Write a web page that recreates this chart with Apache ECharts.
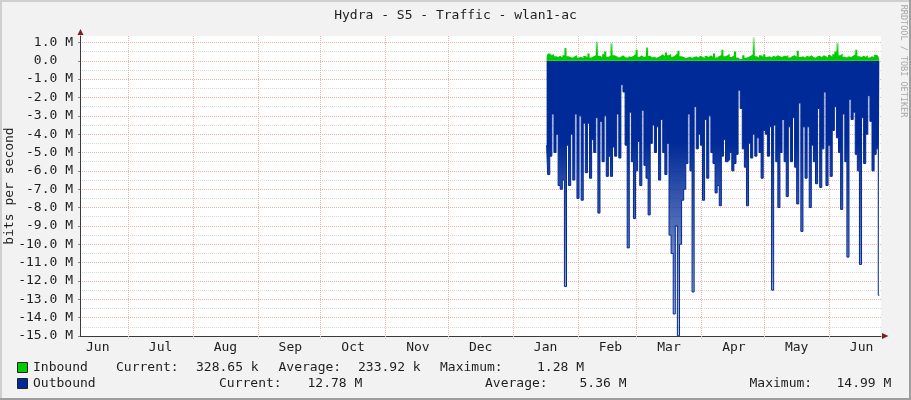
<!DOCTYPE html>
<html><head><meta charset="utf-8">
<script src="https://cdn.jsdelivr.net/npm/echarts@6/dist/echarts.min.js"></script>
<style>html,body{margin:0;padding:0;background:#F2F2F2}#c{width:911px;height:400px}</style>
</head><body><div id="c"></div>
<script>
// ---- data ----
const titleText = 'Hydra - S5 - Traffic - wlan1-ac';
const yAxisName = 'bits per second';
const watermark = 'RRDTOOL / TOBI OETIKER';
const monthNames = ['Jun','Jul','Aug','Sep','Oct','Nov','Dec','Jan','Feb','Mar','Apr','May','Jun'];
// month start, in days relative to 1 Jul
const monthStartDays = [-30,0,31,62,92,123,153,184,215,243,274,304,335];
const axisStartDay = -23.0, axisEndDay = 359.8;
const dataStartDay = 200;   // first sample (mid Jan), one sample per day
const seriesNames = ['Inbound','Outbound'];
const yTickStepM = 1, yMinM = -15, yMaxM = 1.35;
// bits per second, in M
const inboundM = [
 0.22,0.40,0.30,0.38,0.25,0.20,0.28,0.18,0.30,0.69,
 0.25,0.20,0.16,0.24,0.30,0.18,0.22,0.15,0.26,0.20,
 0.40,0.18,0.24,0.30,1.04,0.28,0.20,0.35,0.50,0.22,
 0.28,0.95,0.30,0.24,0.18,0.22,0.30,0.20,0.16,0.25,
 0.20,0.28,0.35,0.60,0.22,0.30,0.20,0.25,0.73,0.28,
 0.18,0.22,0.16,0.20,0.28,0.35,0.25,0.45,0.30,0.38,
 0.22,0.30,0.40,0.55,0.25,0.20,0.15,0.18,0.22,0.16,
 0.20,0.25,0.18,0.28,0.22,0.15,0.26,0.20,0.30,0.22,
 0.40,0.18,0.26,0.32,0.60,0.24,0.30,0.38,0.20,0.30,
 0.50,0.18,0.08,0.10,0.30,0.16,0.22,0.26,0.35,1.28,
 0.24,0.18,0.30,0.22,0.36,0.20,0.25,0.18,0.28,0.22,
 0.30,0.25,0.20,0.28,0.24,0.32,0.18,0.26,0.30,0.22,
 0.55,0.20,0.25,0.18,0.28,0.22,0.30,0.20,0.16,0.24,
 0.28,0.20,0.30,0.25,0.18,0.32,0.22,0.35,0.50,0.95,
 0.30,0.40,0.22,0.18,0.25,0.20,0.28,0.35,0.60,0.25,
 0.20,0.28,0.22,0.30,0.18,0.25,0.20,0.33,0.28,0.33];
const outboundM = [
 4.6,6.2,5.2,2.9,5.0,4.0,6.8,7.0,6.5,12.3,
 4.6,6.8,4.0,6.5,2.9,7.5,3.0,7.6,3.4,6.1,
 3.4,6.4,4.3,5.0,3.1,8.3,3.3,5.5,3.0,6.3,
 5.2,6.3,4.7,5.2,2.9,5.3,1.3,1.7,4.6,10.2,
 2.8,5.5,8.6,6.0,4.4,6.8,2.7,5.7,6.4,8.4,
 4.5,3.5,5.0,3.6,6.5,3.2,5.0,6.2,4.5,9.5,
 10.5,13.8,9.0,14.99,10.0,7.6,7.0,5.6,2.9,6.0,
 12.6,2.5,4.8,4.0,4.6,7.6,3.2,6.4,3.0,5.0,
 5.6,7.2,6.8,7.9,5.2,4.3,5.5,5.4,5.0,6.0,
 5.6,5.1,1.6,2.6,4.8,5.8,7.9,4.5,5.3,4.0,
 5.2,4.2,5.0,6.4,3.8,4.0,5.2,3.6,12.5,3.5,
 5.5,8.0,5.0,3.2,5.5,7.4,3.6,5.5,3.1,5.8,
 7.8,2.3,9.3,3.6,6.4,3.6,8.0,4.6,5.5,6.7,
 2.6,6.9,4.8,1.7,6.8,4.6,6.3,3.8,2.5,4.2,
 5.0,8.1,2.9,5.5,10.7,2.1,3.2,2.8,5.1,6.0,
 11.1,3.1,5.6,4.0,1.9,3.3,6.0,5.1,4.8,12.78];
const statRows = [
 ['Current:','328.65 k','Average:','233.92 k','Maximum:','1.28 M'],
 ['Current:','12.78 M','Average:','5.36 M','Maximum:','14.99 M']];

// ---- styles ----
const FONT = '"DejaVu Sans Mono", monospace';
const TXT = '#1e1e1e';
const MGRID = '#F2B0B0', GRID = '#D8D8D8';
const GREEN = '#00CC00', BLUE = '#002A97';
const labelDays = monthStartDays.map(d => d + 15.5);

const inData = inboundM.map((v, i) => [dataStartDay + i, v * 1e6]);
const outData = outboundM.map((v, i) => [dataStartDay + i, -v * 1e6]);

const chart = echarts.init(document.getElementById('c'), null, {renderer: 'canvas'});

const statX = [[116, 196, 278.5, 358, 440, 537], [219, 307.5, 485, 579.5, 749.5, 836.5]];
const rowY = [368, 384];
const graphics = [
  {type:'rect', shape:{x:0,y:0,width:911,height:2}, style:{fill:'#CFCFCF'}, silent:true},
  {type:'rect', shape:{x:0,y:0,width:2,height:400}, style:{fill:'#CFCFCF'}, silent:true},
  {type:'rect', shape:{x:909,y:0,width:2,height:400}, style:{fill:'#9E9E9E'}, silent:true},
  {type:'rect', shape:{x:0,y:398,width:911,height:2}, style:{fill:'#9E9E9E'}, silent:true},
  {type:'text', x:903.5, y:61, rotation:-Math.PI/2,
   style:{text:watermark, font:'8.5px ' + FONT, fill:'#A8A8A8', align:'center', verticalAlign:'middle'}},
  {type:'polygon', shape:{points:[[77.5,35],[83.5,35],[80.5,29]]}, style:{fill:'#801F1F'}, z:10},
  {type:'polygon', shape:{points:[[882,333],[882,339],[888.5,336]]}, style:{fill:'#801F1F'}, z:10}
];
[GREEN, BLUE].forEach((c, r) => {
  graphics.push({type:'rect', shape:{x:17.5, y:rowY[r]-5.5, width:10, height:10},
    style:{fill:c, stroke:'#222', lineWidth:1}});
  graphics.push({type:'text', x:33, y:rowY[r], style:{text:seriesNames[r], font:'13px ' + FONT, fill:TXT, verticalAlign:'middle'}});
  statRows[r].forEach((t, k) => {
    graphics.push({type:'text', x:statX[r][k], y:rowY[r], style:{text:t, font:'13px ' + FONT, fill:TXT, verticalAlign:'middle'}});
  });
});

chart.setOption({
  animation: false,
  backgroundColor: '#F2F2F2',
  title: {text: titleText, left: 'center', top: 4,
    textStyle: {fontFamily: FONT, fontSize: 13, fontWeight: 'normal', color: TXT}},
  grid: {left: 80, top: 36, width: 801, height: 300, show: true, backgroundColor: '#FFFFFF',
    borderWidth: 0, outerBoundsMode: 'none', containLabel: false},
  xAxis: {
    type: 'value', min: axisStartDay, max: axisEndDay,
    axisLine: {show: true, onZero: false, lineStyle: {color: '#3a3a3a', width: 1}},
    axisTick: {show: true, length: 3, customValues: monthStartDays.filter(d => d > axisStartDay && d < axisEndDay),
      lineStyle: {color: MGRID, type: [1, 1]}},
    splitLine: {show: true, lineStyle: {color: MGRID, width: 1, type: [1, 1]}},
    axisLabel: {customValues: labelDays, margin: 5, fontFamily: FONT, fontSize: 13, color: TXT,
      formatter: v => monthNames[labelDays.indexOf(v)] || ''},
    z: 1
  },
  yAxis: [{
    type: 'value', min: yMinM * 1e6, max: yMaxM * 1e6, interval: yTickStepM * 1e6,
    name: yAxisName, nameLocation: 'middle', nameGap: 64, nameRotate: 90, nameMoveOverlap: false,
    nameTextStyle: {fontFamily: FONT, fontSize: 13, color: TXT},
    axisLine: {show: true, onZero: false, lineStyle: {color: '#3a3a3a', width: 1}},
    axisTick: {show: true, length: 2, lineStyle: {color: '#888'}},
    splitLine: {show: true, showMaxLine: false, showMinLine: false, lineStyle: {color: MGRID, width: 1, type: [1, 1]}},
    axisLabel: {margin: 7, fontFamily: FONT, fontSize: 13, color: TXT, showMaxLabel: false,
      formatter: v => Math.abs(v) < 1 ? '0.0  ' : (v / 1e6).toFixed(1) + ' M'},
    z: 1
  }, {
    type: 'value', min: yMinM * 1e6, max: yMaxM * 1e6, interval: yTickStepM * 1e6 / 2,
    axisLine: {show: false, onZero: false}, axisTick: {show: false}, axisLabel: {show: false},
    splitLine: {show: true, showMaxLine: false, showMinLine: false, lineStyle: {color: GRID, width: 1, type: [1, 1]}},
    z: 0
  }],
  series: [{
    name: seriesNames[1], type: 'line', data: outData, showSymbol: false, symbol: 'none',
    yAxisIndex: 0, z: 3, step: 'middle',
    lineStyle: {color: BLUE, width: 1},
    areaStyle: {opacity: 1, color: new echarts.graphic.LinearGradient(0, 0, 0, 1, [
      {offset: 0, color: BLUE}, {offset: 0.3, color: BLUE}, {offset: 1, color: 'rgba(0,42,151,0.25)'}])}
  }, {
    name: seriesNames[0], type: 'line', data: inData, showSymbol: false, symbol: 'none',
    yAxisIndex: 0, z: 3, step: 'middle',
    lineStyle: {width: 0, color: GREEN},
    areaStyle: {opacity: 1, color: new echarts.graphic.LinearGradient(0, 0, 0, 1, [
      {offset: 0, color: 'rgba(0,204,0,0.3)'}, {offset: 0.65, color: GREEN}, {offset: 1, color: GREEN}])}
  }],
  graphic: graphics
});
</script>
</body></html>
